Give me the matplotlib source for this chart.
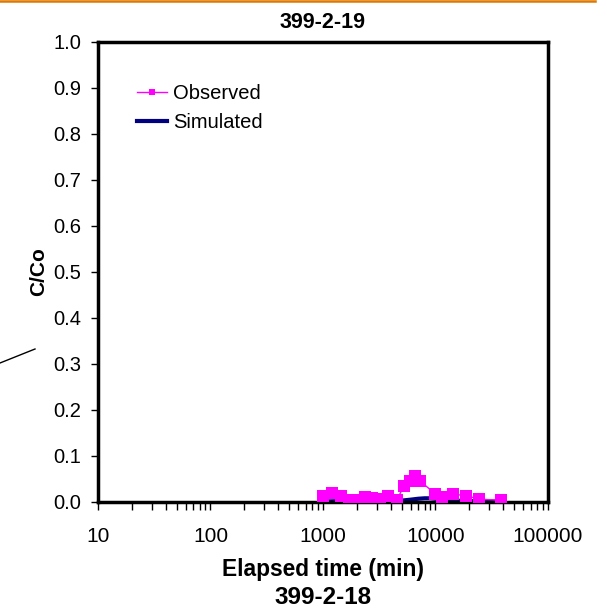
import matplotlib
matplotlib.use("Agg")
import matplotlib.pyplot as plt
from matplotlib.lines import Line2D

plt.rcParams['font.family'] = ['Liberation Sans', 'DejaVu Sans']

# Observed data
obs_time = [1000, 1210, 1455, 1715, 2000, 2360, 2710, 3210, 3760, 4520,
            5250, 5930, 6570, 7280, 10000, 11350, 14200, 18550, 24400, 38200]
obs_conc = [0.012, 0.020, 0.013, 0.004, 0.004, 0.010, 0.008, 0.006, 0.013, 0.004,
            0.035, 0.046, 0.057, 0.046, 0.017, 0.010, 0.017, 0.014, 0.006, 0.004]

# Simulated data
sim_time = [1000, 1500, 2000, 3000, 4000, 5000, 6000, 7000, 8000, 9000,
            10000, 12000, 15000, 20000, 30000, 40000]
sim_conc = [0.001, 0.002, 0.002, 0.002, 0.002, 0.003, 0.005, 0.007, 0.008, 0.008,
            0.007, 0.005, 0.003, 0.002, 0.001, 0.001]

xticks = [10, 100, 1000, 10000, 100000]
xtick_labels = ["10", "100", "1000", "10000", "100000"]
yticks = [0.0, 0.1, 0.2, 0.3, 0.4, 0.5, 0.6, 0.7, 0.8, 0.9, 1.0]

fig = plt.figure(figsize=(6.07, 6.13), dpi=100)
ax = fig.add_axes([0.1614, 0.1811, 0.7414, 0.7504])

ax.plot(obs_time, obs_conc, color='#FF00FF', lw=1, marker='s', markersize=8,
        markeredgewidth=0, zorder=3)
ax.plot(sim_time, sim_conc, color='#000080', lw=3, zorder=2)

ax.set_xscale('log')
ax.set_xlim(10, 100000)
ax.set_ylim(0, 1.0)
ax.set_xticks(xticks)
ax.set_xticklabels(xtick_labels)
ax.set_yticks(yticks)
ax.set_yticklabels([f"{v:.1f}" for v in yticks])
ax.tick_params(axis='both', direction='out', width=1, color='black')
ax.tick_params(axis='x', which='major', length=6, pad=12, labelsize=15)
ax.tick_params(axis='x', which='minor', length=5.5, width=1)
ax.tick_params(axis='y', which='major', length=5, pad=7, labelsize=14.5)
for s in ax.spines.values():
    s.set_linewidth(2.5)
    s.set_color('black')

ax.set_xlabel("Elapsed time (min)", fontsize=16.4, fontweight='bold', labelpad=9)
ax.set_ylabel("C/Co", fontsize=15, fontweight='bold', labelpad=4)
ax.set_title("399-2-19", fontsize=15.5, fontweight='bold', pad=10)

handles = [Line2D([], [], color='#FF00FF', lw=1, marker='s', markersize=4.5, markeredgewidth=0),
           Line2D([], [], color='#000080', lw=3)]
ax.legend(handles, ["Observed", "Simulated"], loc='upper left', bbox_to_anchor=(0.087, 0.908),
          frameon=False, fontsize=14.5, handlelength=1.5, handletextpad=0.3, labelspacing=0.5,
          borderaxespad=0, borderpad=0)

fig.text(0.532, 1 - 598/613, "399-2-18", ha='center', va='center', fontsize=17.5, fontweight='bold')

# decorative lines
fig.add_artist(Line2D([0, 595/607], [1 - 1/613, 1 - 1/613], color='#E07800', lw=1.8,
                      transform=fig.transFigure))
fig.add_artist(Line2D([0, 35/607], [1 - 363/613, 1 - 349/613], color='black', lw=1,
                      transform=fig.transFigure))

fig.savefig("out.png", dpi=100)
